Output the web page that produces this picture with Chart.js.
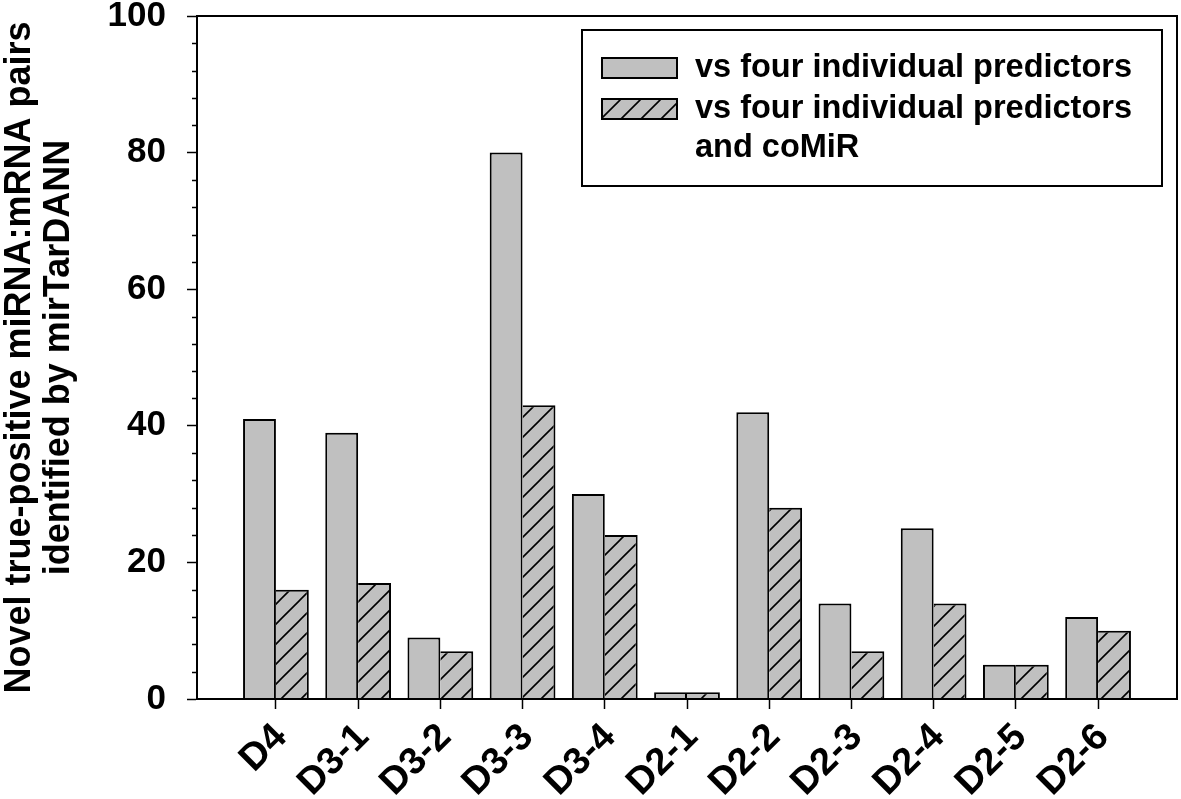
<!DOCTYPE html>
<html>
<head>
<meta charset="utf-8">
<script src="https://cdn.jsdelivr.net/npm/chart.js@4"></script>
<style>
	html, body { margin: 0; padding: 0; background: #fff; }
	#wrap { width: 1181px; height: 799px; position: relative; }
</style>
</head>
<body>
<div id="wrap"><canvas id="barChart"></canvas></div>
<script>
const categories = ["D4", "D3-1", "D3-2", "D3-3", "D3-4", "D2-1", "D2-2", "D2-3", "D2-4", "D2-5", "D2-6"];
const vsFour = [41, 39, 9, 80, 30, 1, 42, 14, 25, 5, 12];
const vsFourCoMiR = [16, 17, 7, 43, 24, 1, 28, 7, 14, 5, 10];
const legendLines = [
	["vs four individual predictors"],
	["vs four individual predictors", "and coMiR"],
];
const yTitle = ["Novel true-positive miRNA:mRNA pairs", "identified by mirTarDANN"];
const yMajorTicks = [0, 20, 40, 60, 80, 100];
const yMinorStep = 4;

const FONT = "'Liberation Sans', Arial, sans-serif";
const GRAY = "#c0c0c0";

// diagonal hatch for the second series
function makeHatch() {
	const c = document.createElement("canvas");
	c.width = 20;
	c.height = 20;
	const g = c.getContext("2d");
	g.fillStyle = GRAY;
	g.fillRect(0, 0, 20, 20);
	g.strokeStyle = "#000";
	g.lineWidth = 1.6;
	g.beginPath();
	g.moveTo(-2, 22); g.lineTo(22, -2);
	g.moveTo(-2, 2); g.lineTo(2, -2);
	g.moveTo(18, 22); g.lineTo(22, 18);
	g.stroke();
	return g.createPattern(c, "repeat");
}
const hatch = makeHatch();

// frame round the plot, minor y ticks and the boxed legend
const framePlugin = {
	id: "frame",
	afterDraw(chart) {
		const { ctx, chartArea: ca, scales } = chart;
		ctx.save();
		ctx.strokeStyle = "#000";
		ctx.lineWidth = 2;
		ctx.strokeRect(ca.left, ca.top, ca.right - ca.left, ca.bottom - ca.top);

		ctx.lineWidth = 1.5;
		ctx.beginPath();
		for (let v = yMinorStep; v < 100; v += yMinorStep) {
			if (yMajorTicks.includes(v)) continue;
			const y = Math.round(scales.y.getPixelForValue(v)) + 0.5;
			ctx.moveTo(ca.left - 5, y);
			ctx.lineTo(ca.left, y);
		}
		ctx.stroke();

		// legend
		const bx = ca.left + 385;
		const by = ca.top + 14;
		const bw = ca.right - 15 - bx;
		const bh = 156;
		ctx.fillStyle = "#fff";
		ctx.fillRect(bx, by, bw, bh);
		ctx.lineWidth = 2;
		ctx.strokeRect(bx, by, bw, bh);

		ctx.font = "bold 32.5px " + FONT;
		ctx.textBaseline = "alphabetic";
		ctx.textAlign = "left";
		let top = by + 28;
		chart.data.datasets.forEach((ds, i) => {
			ctx.fillStyle = ds.backgroundColor;
			ctx.fillRect(bx + 20, top, 75, 20);
			ctx.lineWidth = 2;
			ctx.strokeStyle = "#000";
			ctx.strokeRect(bx + 20, top, 75, 20);
			ctx.fillStyle = "#000";
			legendLines[i].forEach((line, j) => {
				ctx.fillText(line, bx + 113, top + 19 + j * 39);
			});
			top += 41;
		});
		ctx.restore();
	},
};

const ctx = document.getElementById("barChart");
new Chart(ctx, {
	type: "bar",
	data: {
		datasets: [
			{
				label: legendLines[0].join(" "),
				data: vsFour.map((v, i) => ({ x: i, y: v })),
				backgroundColor: GRAY,
				borderColor: "#000",
				borderWidth: { top: 2, left: 2, right: 2, bottom: 0 },
				categoryPercentage: 0.8,
				barPercentage: 1.0,
			},
			{
				label: legendLines[1].join(" "),
				data: vsFourCoMiR.map((v, i) => ({ x: i, y: v })),
				backgroundColor: hatch,
				borderColor: "#000",
				borderWidth: { top: 2, left: 0, right: 2, bottom: 0 },
				categoryPercentage: 0.8,
				barPercentage: 1.0,
			},
		],
	},
	options: {
		responsive: true,
		maintainAspectRatio: false,
		animation: false,
		devicePixelRatio: 1,
		layout: { padding: { top: 16, right: 4, left: 0, bottom: 0 } },
		plugins: {
			legend: { display: false },
			tooltip: { enabled: false },
		},
		scales: {
			x: {
				type: "linear",
				min: -0.96,
				max: 10.96,
				offset: false,
				afterBuildTicks: (axis) => {
					axis.ticks = categories.map((c, i) => ({ value: i }));
				},
				afterFit: (scale) => {
					scale.height = 100;
					scale.paddingLeft = 0;
					scale.paddingRight = 0;
				},
				ticks: {
					autoSkip: false,
					maxRotation: 45,
					minRotation: 45,
					padding: 6,
					labelOffset: 5,
					color: "#000",
					font: { family: FONT, size: 38, weight: "bold" },
					callback: (v) => categories[v],
				},
				grid: {
					offset: false,
					drawOnChartArea: false,
					drawTicks: true,
					tickLength: 10,
					tickColor: "#000",
					tickWidth: 1.5,
				},
				border: { display: true, color: "#000", width: 2 },
			},
			y: {
				min: 0,
				max: 100,
				afterBuildTicks: (axis) => {
					axis.ticks = yMajorTicks.map((v) => ({ value: v }));
				},
				afterFit: (scale) => {
					scale.width = 197;
					scale.paddingTop = 0;
					scale.paddingBottom = 0;
				},
				ticks: {
					padding: 21,
					color: "#000",
					font: { family: FONT, size: 35, weight: "bold" },
				},
				grid: {
					drawOnChartArea: false,
					drawTicks: true,
					tickLength: 10,
					tickColor: "#000",
					tickWidth: 1.5,
				},
				border: { display: true, color: "#000", width: 2 },
				title: {
					display: true,
					text: yTitle,
					color: "#000",
					padding: 0,
					font: { family: FONT, size: 36, weight: "bold", lineHeight: 1.1 },
				},
			},
		},
	},
	plugins: [framePlugin],
});
</script>
</body>
</html>
